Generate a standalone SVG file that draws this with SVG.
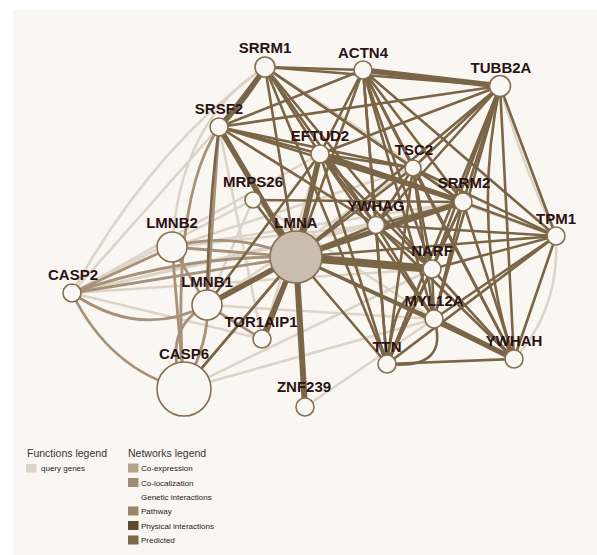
<svg xmlns="http://www.w3.org/2000/svg" width="597" height="555" viewBox="0 0 597 555">
<style>
.bg{fill:#faf7f2}
.l{fill:none;stroke:#ddd3c6;stroke-width:2.5;stroke-linecap:round}
.m{fill:none;stroke:#a6917a;stroke-width:2.8;stroke-linecap:round}
.p{fill:none;stroke:#7a6547;stroke-width:2.6;stroke-linecap:round}
.t{stroke-width:5.5}
.n{fill:#f9f7f3;stroke:#856f51;stroke-width:1.6}
.q{fill:#c9bdad;stroke:#856f51;stroke-width:1.6}
.lb{font-family:"Liberation Sans",Arial,sans-serif;font-weight:bold;font-size:15px;fill:#2b1212;text-anchor:middle}
.lh{font-family:"Liberation Sans",Arial,sans-serif;font-size:10.5px;fill:#333}
.ls{font-family:"Liberation Sans",Arial,sans-serif;font-size:8px;fill:#222}
</style>
<rect x="0" y="0" width="597" height="555" fill="#ffffff"/>
<rect class="bg" x="13" y="10" width="584" height="545"/>
<g id="connectors">
<!-- light edges -->
<path class="l" d="M72,293 Q150,150 265,67"/>
<path class="l" d="M72,293 L219,127"/>
<path class="l" d="M72,293 L320,154"/>
<path class="l" d="M72,293 L253,200"/>
<path class="l" d="M72,293 L376,225"/>
<path class="l" d="M72,293 L262,339"/>
<path class="l" d="M72,293 L432,269"/>
<path class="l" d="M72,293 L463,202"/>
<path class="l" d="M184,389 L434,319"/>
<path class="l" d="M184,389 L432,269"/>
<path class="l" d="M305,407 L434,319"/>
<path class="l" d="M172,247 Q180,120 265,67"/>
<path class="l" d="M172,247 L376,225"/>
<path class="l" d="M172,247 L463,202"/>
<path class="l" d="M172,247 L413,168"/>
<path class="l" d="M207,305 L253,200"/>
<path class="l" d="M207,305 L413,168"/>
<path class="l" d="M207,305 L434,319"/>
<path class="l" d="M262,339 L320,154"/>
<path class="l" d="M219,127 L262,339"/>
<path class="l" d="M556,236 Q560,310 514,359"/>
<path class="l" d="M500,86 Q520,160 556,236"/>
<path class="l" d="M387,364 L556,236"/>
<path class="l" d="M514,359 L376,225"/>
<path class="l" d="M253,200 L434,319"/>
<path class="l" d="M320,154 L556,236"/>
<path class="l" d="M265,67 Q380,140 463,202"/>
<!-- medium edges -->
<path class="m" d="M72,293 L172,247"/>
<path class="m" d="M72,293 L296,257"/>
<path class="m" d="M72,293 Q180,255 296,257"/>
<path class="m" d="M72,293 Q140,340 207,305"/>
<path class="m" d="M72,293 Q110,370 184,389"/>
<path class="m" d="M184,389 L172,247"/>
<path class="m" d="M184,389 Q160,330 207,305"/>
<path class="m" d="M184,389 Q210,340 207,305"/>
<path class="m" d="M184,389 L296,257"/>
<path class="m" d="M172,247 L296,257"/>
<path class="m" d="M172,247 L207,305"/>
<path class="m" d="M207,305 L262,339"/>
<path class="m" d="M219,127 L207,305"/>
<path class="m" d="M219,127 Q170,200 184,389"/>
<path class="m" d="M172,247 Q230,230 296,257"/>
<!-- dark edges -->
<path class="p" d="M265,67 L363,70"/>
<path class="p" d="M265,67 L500,86"/>
<path class="p t" d="M265,67 Q245,100 219,127"/>
<path class="p" d="M265,67 L320,154"/>
<path class="p" d="M265,67 L413,168"/>
<path class="p" d="M265,67 L463,202"/>
<path class="p" d="M265,67 L376,225"/>
<path class="p" d="M265,67 L296,257"/>
<path class="p" d="M265,67 L432,269"/>
<path class="p" d="M265,67 L387,364"/>
<path class="p" d="M265,67 L219,127"/>
<path class="p t" d="M363,70 L500,86"/>
<path class="p" d="M363,70 L320,154"/>
<path class="p" d="M363,70 L413,168"/>
<path class="p" d="M363,70 L463,202"/>
<path class="p" d="M363,70 L376,225"/>
<path class="p" d="M363,70 L432,269"/>
<path class="p" d="M363,70 L434,319"/>
<path class="p" d="M363,70 L387,364"/>
<path class="p" d="M363,70 L514,359"/>
<path class="p" d="M363,70 L556,236"/>
<path class="p" d="M363,70 L219,127"/>
<path class="p" d="M363,70 L296,257"/>
<path class="p" d="M500,86 L219,127"/>
<path class="p" d="M500,86 L320,154"/>
<path class="p" d="M500,86 L413,168"/>
<path class="p" d="M500,86 L463,202"/>
<path class="p" d="M500,86 L376,225"/>
<path class="p" d="M500,86 L432,269"/>
<path class="p" d="M500,86 L434,319"/>
<path class="p" d="M500,86 L387,364"/>
<path class="p" d="M500,86 L514,359"/>
<path class="p" d="M500,86 L556,236"/>
<path class="p" d="M500,86 L296,257"/>
<path class="p" d="M500,86 Q470,230 514,359"/>
<path class="p" d="M219,127 L320,154"/>
<path class="p" d="M219,127 L463,202"/>
<path class="p" d="M219,127 L413,168"/>
<path class="p t" d="M219,127 L296,257"/>
<path class="p" d="M219,127 L376,225"/>
<path class="p" d="M219,127 Q208,210 207,305"/>
<path class="p t" d="M320,154 L296,257"/>
<path class="p" d="M320,154 L413,168"/>
<path class="p t" d="M320,154 L463,202"/>
<path class="p" d="M320,154 L376,225"/>
<path class="p" d="M320,154 L432,269"/>
<path class="p" d="M320,154 L434,319"/>
<path class="p" d="M320,154 L387,364"/>
<path class="p" d="M320,154 L207,305"/>
<path class="p" d="M413,168 L376,225"/>
<path class="p" d="M413,168 L463,202"/>
<path class="p" d="M413,168 L432,269"/>
<path class="p" d="M413,168 L434,319"/>
<path class="p" d="M413,168 L387,364"/>
<path class="p" d="M413,168 L514,359"/>
<path class="p" d="M413,168 L296,257"/>
<path class="p" d="M413,168 L556,236"/>
<path class="p" d="M463,202 L376,225"/>
<path class="p t" d="M463,202 L296,257"/>
<path class="p" d="M463,202 L432,269"/>
<path class="p" d="M463,202 L434,319"/>
<path class="p" d="M463,202 L387,364"/>
<path class="p" d="M463,202 L514,359"/>
<path class="p" d="M463,202 L556,236"/>
<path class="p" d="M253,200 L463,202"/>
<path class="p" d="M253,200 L296,257"/>
<path class="p" d="M376,225 L296,257"/>
<path class="p" d="M376,225 L556,236"/>
<path class="p" d="M376,225 L432,269"/>
<path class="p" d="M376,225 L434,319"/>
<path class="p" d="M376,225 L387,364"/>
<path class="p" d="M376,225 L514,359"/>
<path class="p" d="M296,257 L432,269" style="stroke-width:8"/>
<path class="p" d="M296,257 L434,319"/>
<path class="p" d="M296,257 L387,364"/>
<path class="p" d="M296,257 L514,359"/>
<path class="p" d="M296,257 L556,236"/>
<path class="p" d="M296,257 L305,407" style="stroke-width:6"/>
<path class="p t" d="M296,257 L262,339"/>
<path class="p t" d="M296,257 L207,305"/>
<path class="p" d="M296,257 L184,389"/>
<path class="p" d="M296,257 L265,339"/>
<path class="p" d="M432,269 L556,236"/>
<path class="p" d="M432,269 L434,319"/>
<path class="p" d="M432,269 L514,359"/>
<path class="p" d="M432,269 L387,364"/>
<path class="p" d="M556,236 L434,319"/>
<path class="p" d="M556,236 L514,359"/>
<path class="p" d="M556,236 L387,364"/>
<path class="p" d="M434,319 Q400,260 387,364"/>
<path class="p" d="M434,319 Q450,370 387,364"/>
<path class="p t" d="M434,319 L514,359"/>
<path class="p" d="M387,364 L514,359"/>
<path class="p" d="M387,364 L432,269"/>
</g>
<g id="n-SRRM1"><circle class="n" cx="265" cy="67" r="10"/><text class="lb" x="265" y="53">SRRM1</text></g>
<g id="n-ACTN4"><circle class="n" cx="363" cy="70" r="9"/><text class="lb" x="363" y="58">ACTN4</text></g>
<g id="n-TUBB2A"><circle class="n" cx="500" cy="86" r="10.5"/><text class="lb" x="501" y="73">TUBB2A</text></g>
<g id="n-SRSF2"><circle class="n" cx="219" cy="127" r="9"/><text class="lb" x="219" y="114">SRSF2</text></g>
<g id="n-EFTUD2"><circle class="n" cx="320" cy="154" r="9"/><text class="lb" x="320" y="141">EFTUD2</text></g>
<g id="n-TSC2"><circle class="n" cx="413" cy="168" r="8"/><text class="lb" x="414" y="155">TSC2</text></g>
<g id="n-SRRM2"><circle class="n" cx="463" cy="202" r="9"/><text class="lb" x="464" y="188">SRRM2</text></g>
<g id="n-MRPS26"><circle class="n" cx="253" cy="200" r="8"/><text class="lb" x="253" y="187">MRPS26</text></g>
<g id="n-YWHAG"><circle class="n" cx="376" cy="225" r="8.5"/><text class="lb" x="376" y="211">YWHAG</text></g>
<g id="n-LMNA"><circle class="q" cx="296" cy="257" r="26"/><text class="lb" x="296" y="228">LMNA</text></g>
<g id="n-LMNB2"><circle class="n" cx="172" cy="247" r="15"/><text class="lb" x="172" y="228">LMNB2</text></g>
<g id="n-TPM1"><circle class="n" cx="556" cy="236" r="9"/><text class="lb" x="556" y="224">TPM1</text></g>
<g id="n-NARF"><circle class="n" cx="432" cy="269" r="9"/><text class="lb" x="432" y="256">NARF</text></g>
<g id="n-CASP2"><circle class="n" cx="72" cy="293" r="9"/><text class="lb" x="73" y="280">CASP2</text></g>
<g id="n-LMNB1"><circle class="n" cx="207" cy="305" r="15"/><text class="lb" x="207" y="287">LMNB1</text></g>
<g id="n-MYL12A"><circle class="n" cx="434" cy="319" r="9"/><text class="lb" x="434" y="306">MYL12A</text></g>
<g id="n-TOR1AIP1"><circle class="n" cx="262" cy="339" r="9"/><text class="lb" x="261" y="327">TOR1AIP1</text></g>
<g id="n-TTN"><circle class="n" cx="387" cy="364" r="9"/><text class="lb" x="387" y="352">TTN</text></g>
<g id="n-YWHAH"><circle class="n" cx="514" cy="359" r="9"/><text class="lb" x="514" y="346">YWHAH</text></g>
<g id="n-CASP6"><circle class="n" cx="184" cy="389" r="27"/><text class="lb" x="184" y="359">CASP6</text></g>
<g id="n-ZNF239"><circle class="n" cx="305" cy="407" r="9"/><text class="lb" x="304" y="392">ZNF239</text></g>
<g id="legend">
<text class="lh" x="27" y="456.5">Functions legend</text>
<rect x="26" y="464" width="10.5" height="8.5" fill="#ddd4c8"/>
<text class="ls" x="41" y="471">query genes</text>
<text class="lh" x="128" y="456.5">Networks legend</text>
<rect x="128" y="463.5" width="10.5" height="9" fill="#b4a28d"/>
<text class="ls" x="141" y="471">Co-expression</text>
<rect x="128" y="478" width="10.5" height="9" fill="#9f8b72"/>
<text class="ls" x="141" y="485.5">Co-localization</text>
<text class="ls" x="141" y="499.5">Genetic interactions</text>
<rect x="128" y="506.5" width="10.5" height="9" fill="#9c8569"/>
<text class="ls" x="141" y="514">Pathway</text>
<rect x="128" y="521" width="10.5" height="9" fill="#5f4a2f"/>
<text class="ls" x="141" y="528.5">Physical interactions</text>
<rect x="128" y="535.5" width="10.5" height="9" fill="#7e6748"/>
<text class="ls" x="141" y="543">Predicted</text>
</g>
</svg>
